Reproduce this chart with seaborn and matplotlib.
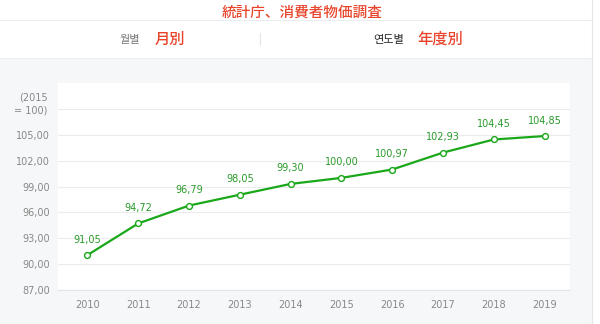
import matplotlib
matplotlib.use("Agg")
import matplotlib.pyplot as plt
import seaborn as sns
import pandas as pd
from matplotlib.lines import Line2D
from matplotlib.patches import Rectangle

years = ["2010", "2011", "2012", "2013", "2014", "2015", "2016", "2017", "2018", "2019"]
cpi = [91.05, 94.72, 96.79, 98.05, 99.30, 100.00, 100.97, 102.93, 104.45, 104.85]
yticks = [87, 90, 93, 96, 99, 102, 105]
unit_label = "(2015\n= 100)"
title = "統計庁、消費者物価調査"
tab_kr1, tab_jp1 = "월별", "月別"
tab_kr2, tab_jp2 = "연도별", "年度別"

sns.set_theme(style="white")
plt.rcParams['font.family'] = ['DejaVu Sans', 'Noto Sans CJK JP']

W, H = 600, 324
fig = plt.figure(figsize=(6, 3.24), dpi=100)
fig.patch.set_facecolor("#f6f7f9")

def px(x, y):
    return x / W, 1 - y / H

# white top area
fig.patches.append(Rectangle((0, 1 - 58 / H), 592 / W, 58 / H, transform=fig.transFigure,
                             facecolor="white", edgecolor="none", zorder=0))
fig.patches.append(Rectangle((592 / W, 0), 8 / W, 1, transform=fig.transFigure,
                             facecolor="white", edgecolor="none", zorder=0))
for yy in (20, 58):
    fig.add_artist(Line2D([0, 592 / W], [1 - yy / H] * 2, transform=fig.transFigure,
                          color="#ebedf0", lw=0.8))
fig.add_artist(Line2D([592 / W] * 2, [0, 1], transform=fig.transFigure, color="#e3e5e8", lw=0.8))
fig.add_artist(Line2D([260 / W] * 2, [1 - 33 / H, 1 - 45 / H], transform=fig.transFigure,
                      color="#e3e5e8", lw=0.8))

red = "#e8452c"
fig.text(*px(302, 13), title, color=red, fontsize=10.5, ha="center", va="center",
         family=["Noto Sans CJK JP"], fontweight="medium")
fig.text(*px(130, 40), tab_kr1, color="#777777", fontsize=8, ha="center", va="center",
         family=["Noto Sans CJK KR"])
fig.text(*px(170, 39), tab_jp1, color=red, fontsize=11, ha="center", va="center",
         family=["Noto Sans CJK JP"], fontweight="medium")
fig.text(*px(389, 40), tab_kr2, color="#222222", fontsize=8, ha="center", va="center",
         family=["Noto Sans CJK KR"])
fig.text(*px(440, 39), tab_jp2, color=red, fontsize=11, ha="center", va="center",
         family=["Noto Sans CJK JP"], fontweight="medium")

ax = fig.add_axes([58 / W, (324 - 290) / H, 512 / W, (290 - 83) / H])
ax.set_facecolor("white")

df = pd.DataFrame({"idx": range(len(years)), "cpi": cpi})
green = "#1aa81a"
sns.lineplot(data=df, x="idx", y="cpi", ax=ax, color=green, lw=1.6, marker="o",
             markersize=4.2, markerfacecolor="white", markeredgecolor=green,
             markeredgewidth=1.0, zorder=3)

for i, v in enumerate(cpi):
    ax.annotate(f"{v:.2f}".replace(".", ","), (i, v), xytext=(0, 7.5), textcoords="offset points",
                ha="center", va="bottom", color="#2a9a2a", fontsize=7)

ax.set_xlim(-0.58, 9.5)
ax.set_ylim(87, 111)
ax.set_xticks(range(len(years)))
ax.set_xticklabels(years)
ax.set_yticks(yticks + [108])
ax.set_yticklabels([f"{t:.2f}".replace(".", ",") for t in yticks] + [""])
ax.tick_params(axis="both", length=0, labelsize=7, colors="#888888", pad=6)
ax.tick_params(axis="x", pad=7)
ax.text(-0.02, 108.55, unit_label, transform=ax.get_yaxis_transform(), ha="right", va="center",
        fontsize=7, color="#888888", linespacing=1.4)
ax.grid(axis="y", color="#ececec", lw=0.8)
ax.grid(axis="x", visible=False)
ax.set_xlabel("")
ax.set_ylabel("")
for s in ["top", "right", "left"]:
    ax.spines[s].set_visible(False)
ax.spines["bottom"].set_color("#e6e6e6")
ax.spines["bottom"].set_linewidth(0.8)

fig.savefig("out.png", dpi=100, facecolor=fig.get_facecolor())
